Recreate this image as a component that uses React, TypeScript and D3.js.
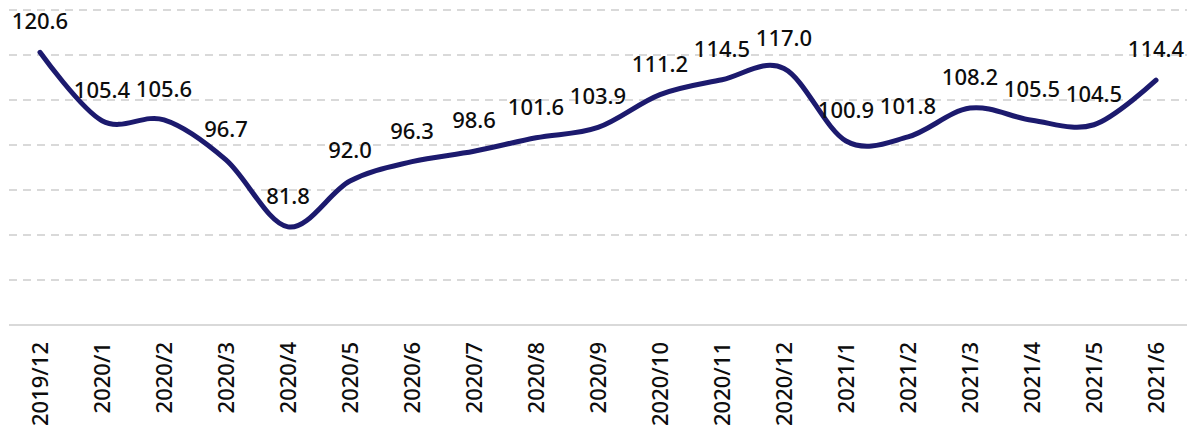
import { useEffect, useRef } from "react";
import * as d3 from "d3";

const months = [
  "2019/12", "2020/1", "2020/2", "2020/3", "2020/4", "2020/5", "2020/6",
  "2020/7", "2020/8", "2020/9", "2020/10", "2020/11", "2020/12",
  "2021/1", "2021/2", "2021/3", "2021/4", "2021/5", "2021/6",
];
const values = [
  120.6, 105.4, 105.6, 96.7, 81.8, 92.0, 96.3, 98.6, 101.6, 103.9, 111.2,
  114.5, 117.0, 100.9, 101.8, 108.2, 105.5, 104.5, 114.4,
];
const gridTicks = [70, 80, 90, 100, 110, 120, 130];

const W = 1190;
const H = 434;
const FONT = "'Noto Sans', sans-serif";

export default function App() {
  const svgRef = useRef<SVGSVGElement>(null);

  useEffect(() => {
    document.body.style.margin = "0";
    if (!svgRef.current) return;
    const svg = d3.select(svgRef.current);
    svg.selectAll("*").remove();

    const x = d3.scalePoint<string>().domain(months).range([40, 1156]);
    const y = d3.scaleLinear().domain([60, 130]).range([325, 10]);

    // dashed grid
    svg.append("g")
      .selectAll("line")
      .data(gridTicks)
      .join("line")
      .attr("x1", 9).attr("x2", 1187)
      .attr("y1", (d) => y(d)).attr("y2", (d) => y(d))
      .attr("stroke", "#d9d9d9").attr("stroke-width", 2)
      .attr("stroke-dasharray", "8,6");

    // baseline
    svg.append("line")
      .attr("x1", 9).attr("x2", 1187)
      .attr("y1", y(60)).attr("y2", y(60))
      .attr("stroke", "#d9d9d9").attr("stroke-width", 2);

    const line = d3.line<number>()
      .x((_, i) => x(months[i])!)
      .y((d) => y(d))
      .curve(d3.curveCardinal.tension(0));

    svg.append("path")
      .datum(values)
      .attr("fill", "none")
      .attr("stroke", "#1c1a6e")
      .attr("stroke-width", 5)
      .attr("stroke-linecap", "round")
      .attr("d", line);

    // value labels
    svg.append("g")
      .selectAll("text")
      .data(values)
      .join("text")
      .attr("x", (_, i) => x(months[i])!)
      .attr("y", (d) => y(d) - 23)
      .attr("text-anchor", "middle")
      .attr("fill", "#0d0d0d")
      .style("font-family", FONT)
      .style("font-weight", 500)
      .style("font-size", "22px")
      .text((d) => d.toFixed(1));

    // category labels
    svg.append("g")
      .selectAll("text")
      .data(months)
      .join("text")
      .attr("transform", (d) => `translate(${x(d)},342) rotate(-90)`)
      .attr("dy", "0.35em")
      .attr("text-anchor", "end")
      .attr("fill", "#0d0d0d")
      .style("font-family", FONT)
      .style("font-weight", 500)
      .style("font-size", "22px")
      .text((d) => d);
  }, []);

  return <svg ref={svgRef} width={W} height={H} style={{ display: "block" }} />;
}
